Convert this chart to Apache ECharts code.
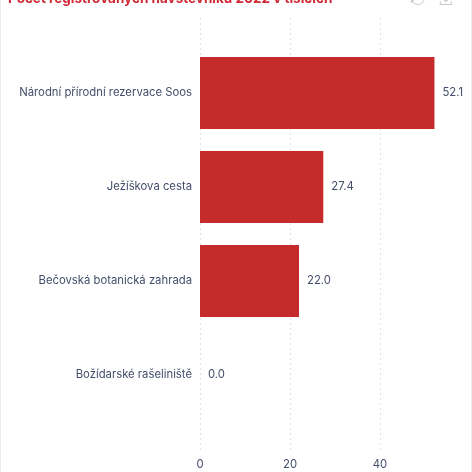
<!DOCTYPE html>
<html>
<head>
<meta charset="utf-8">
<script src="https://cdn.jsdelivr.net/npm/echarts@6/dist/echarts.min.js"></script>
<style>
  html, body { margin: 0; padding: 0; background: #fff; }
  #wrap { width: 470px; height: 472px; border-left: 1px solid #ebebeb; border-right: 1px solid #ebebeb; }
  #main { width: 470px; height: 472px; }
</style>
</head>
<body>
<div id="wrap"><div id="main"></div></div>
<script>
const titleText = 'Počet registrovaných návštěvníků 2022 v tisících';
const categories = [
  'Národní přírodní rezervace Soos',
  'Ježíškova cesta',
  'Bečovská botanická zahrada',
  'Božídarské rašeliniště'
];
const visitors = [52.1, 27.4, 22.0, 0.0];
const xMax = 57;
const xInterval = 20;

const textColor = '#434e6a';
const font = 'Inter, "Open Sans", sans-serif';
const fontSize = 11.3;

const chart = echarts.init(document.getElementById('main'));

const option = {
  animation: false,
  textStyle: { fontFamily: font },
  title: {
    text: titleText,
    left: 2,
    top: -13,
    textStyle: { color: '#cf2a36', fontSize: 13.5, fontWeight: 'bold', fontFamily: font }
  },
  toolbox: {
    right: 2,
    top: -26,
    itemSize: 13,
    itemGap: 11,
    iconStyle: { borderColor: '#c4c4c4' },
    feature: { restore: {}, saveAsImage: {} }
  },
  grid: [
    { left: 199, width: 256.5, top: 46, height: 376 },
    { left: 199, width: 256.5, top: 18, height: 435 }
  ],
  xAxis: [
    {
      gridIndex: 0,
      type: 'value',
      min: 0,
      max: xMax,
      interval: xInterval,
      axisLine: { show: false },
      axisTick: { show: false },
      axisLabel: { show: false },
      splitLine: { show: false }
    },
    {
      gridIndex: 1,
      type: 'value',
      min: 0,
      max: xMax,
      interval: xInterval,
      axisLine: { show: false },
      axisTick: { show: false },
      axisLabel: { color: textColor, fontSize: fontSize, margin: 6, showMaxLabel: false },
      splitLine: {
        show: true,
        showMaxLine: false,
        lineStyle: { color: '#e2e2e2', type: [2, 3], width: 1 }
      }
    }
  ],
  yAxis: [
    {
      gridIndex: 0,
      type: 'category',
      inverse: true,
      data: categories,
      axisLine: { show: false },
      axisTick: { show: false },
      axisLabel: { color: textColor, fontSize: fontSize, margin: 8 }
    },
    {
      gridIndex: 1,
      type: 'value',
      show: false,
      splitLine: { show: false }
    }
  ],
  series: [
    {
      type: 'bar',
      xAxisIndex: 0,
      yAxisIndex: 0,
      data: visitors,
      barCategoryGap: '23.4%',
      itemStyle: { color: '#c62b2b' },
      label: {
        show: true,
        position: 'right',
        distance: 8,
        color: textColor,
        fontSize: fontSize,
        formatter: p => p.value.toFixed(1)
      }
    }
  ]
};

chart.setOption(option);
</script>
</body>
</html>
